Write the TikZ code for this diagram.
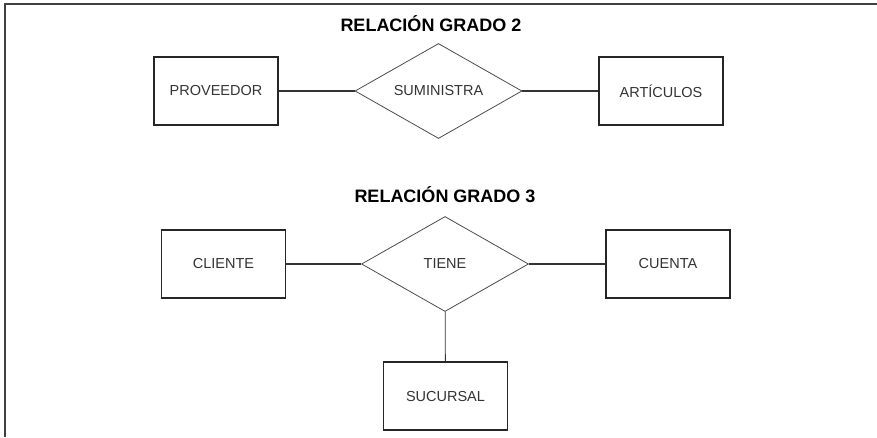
\documentclass[tikz,border=0pt]{standalone}
\usepackage{fontspec}
\setmainfont{Liberation Sans}
\usetikzlibrary{shapes.geometric}
\tikzset{entidad/.style={draw=black!85, line width=1.2pt, minimum width=124pt, minimum height=68pt,
		inner sep=0pt, font=\fontsize{14.5}{16}\selectfont, text=black!80},
	relacion/.style={diamond, draw=black!70, line width=.8pt, aspect=1.76, minimum width=167pt,
		minimum height=95pt, inner sep=0pt, font=\fontsize{14.5}{16}\selectfont, text=black!80},
	titulo/.style={anchor=base, font=\bfseries\fontsize{18}{20}\selectfont},
	enlace/.style={draw=black!80, line width=1.1pt}}

\begin{document}
\begin{tikzpicture}[x=1pt,y=-1pt]
	\useasboundingbox (0,0) rectangle (877,437);
	\draw[line width=1.5pt, black!75] (5,437)--(5,4)--(877,4);
	% grado 2
	\node[titulo] (T2) at (431,31){RELACIÓN GRADO 2};
	\node[entidad] (prov) at (216,91){PROVEEDOR};
	\node[relacion] (sum) at (438.5,91){SUMINISTRA};
	\node[entidad] (art) at (661,91){ARTÍCULOS};
	\draw[enlace] (prov)--(sum);
	\draw[enlace] (sum)--(art);
	% grado 3
	\node[titulo] (T3) at (445,202){RELACIÓN GRADO 3};
	\node[entidad] (cli) at (223.5,264){CLIENTE};
	\node[relacion] (tiene) at (445,264){TIENE};
	\node[entidad] (cta) at (668,264){CUENTA};
	\node[entidad] (suc) at (445.5,396){SUCURSAL};
	\draw[enlace] (cli)--(tiene);
	\draw[enlace] (tiene)--(cta);
	\draw[enlace, line width=.8pt] (tiene)--(suc);
\end{tikzpicture}
\end{document}
